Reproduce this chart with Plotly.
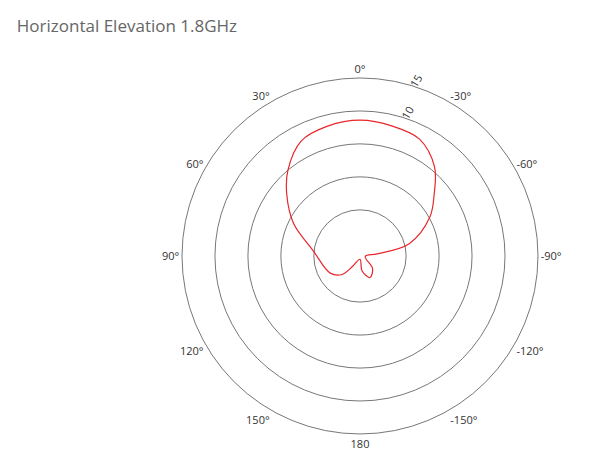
import plotly.graph_objects as go

# radiation pattern (degrees, dB)
angles = [0, -14, -27, -40, -50, -61, -76, -83, -95, -135, -155, -172, 180,
          145, 136, 120, 84, 64, 50, 40, 27, 14, 0]
gain = [8.6, 8.3, 7.9, 5.6, 2.7, 0.1, -4.3, -9.4, -11.2, -9.3, -8.4, -9.7, -11.5,
        -10.2, -8.1, -6.8, -4.9, -0.8, 2.5, 5.0, 7.6, 8.3, 8.6]

ring_vals = [-5, 0, 5, 10, 15]
ring_text = ["", "", "", "10", "15"]
tick_angles = [0, 30, 60, 90, 120, 150, 180, 210, 240, 270, 300, 330]
tick_text = ["0°", "30°", "60°", "90°", "120°", "150°", "180",
             "-150°", "-120°", "-90°", "-60°", "-30°"]

fig = go.Figure(go.Scatterpolar(
    r=gain, theta=angles, mode="lines",
    line=dict(color="#e8262b", width=1.2, shape="spline"),
    hoverinfo="skip", showlegend=False
))

fig.update_layout(
    width=589, height=474,
    margin=dict(l=0, r=0, t=0, b=0),
    paper_bgcolor="white",
    font=dict(family="Open Sans, Arial, sans-serif", color="#333", size=11),
    title=dict(text="Horizontal Elevation 1.8GHz", x=0.015, y=0.975,
               xanchor="left", font=dict(size=17, color="#666")),
    polar=dict(
        domain=dict(x=[0.2954, 0.8998], y=[0.1013, 0.8524]),
        bgcolor="white",
        radialaxis=dict(range=[-12, 15], tickvals=ring_vals, ticktext=ring_text,
                        angle=75, tickangle=15, showline=False, ticks="",
                        gridcolor="#777", gridwidth=1, tickfont=dict(size=11)),
        angularaxis=dict(rotation=90, direction="counterclockwise",
                         tickvals=tick_angles, ticktext=tick_text,
                         showgrid=False, showline=True, linecolor="#777",
                         ticks="", tickfont=dict(size=11))
    )
)

fig.write_html("out.html")
